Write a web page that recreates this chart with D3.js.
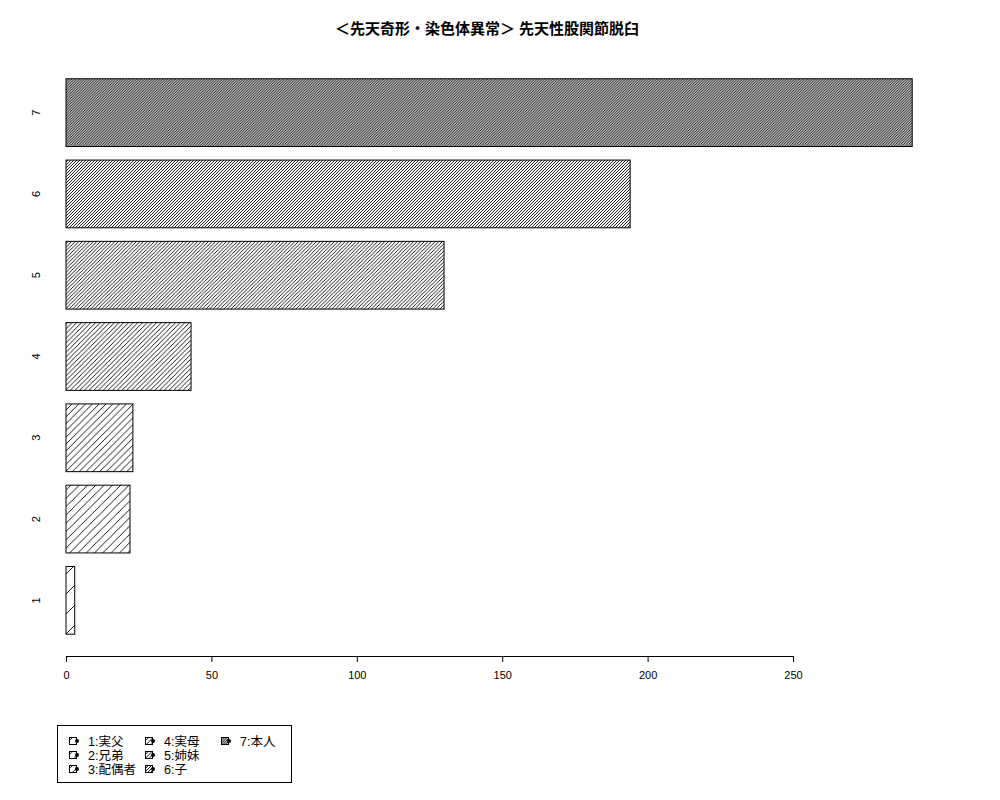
<!DOCTYPE html>
<html>
<head>
<meta charset="utf-8">
<script src="https://cdn.jsdelivr.net/npm/d3@7"></script>
<style>
  body { margin: 0; background: #fff; }
  text { font-family: "Liberation Sans", "Noto Sans CJK JP", sans-serif; fill: #000; }
</style>
</head>
<body>
<svg id="chart" width="1000" height="800"></svg>
<script>
// data
var categories = ["1", "2", "3", "4", "5", "6", "7"];
var counts = [3, 22, 23, 43, 130, 194, 291];
var legendLabels = ["1:実父", "2:兄弟", "3:配偶者", "4:実母", "5:姉妹", "6:子", "7:本人"];
var xTicks = [0, 50, 100, 150, 200, 250];
var title = "＜先天奇形・染色体異常＞ 先天性股関節脱臼";

// horizontal gap between hatch lines for each bar (px)
var hatchGap = [20, 8.3, 6.8, 4.7, 3.6, 3.0, 2.6];

var svg = d3.select("#chart");
var defs = svg.append("defs");

var x = d3.scaleLinear().domain([0, 250]).range([66, 793]);
// bars run from 1 at the bottom to 7 at the top
var y = d3.scaleBand()
   .domain(categories.slice().reverse())
   .range([72, 641])
   .paddingInner(0.2 / 1.2)
   .paddingOuter(0.1 / 1.2);

//Make one hatch pattern per bar: a square tile with a "/" diagonal
hatchGap.forEach(function(g, i){
   var pat = defs.append("pattern")
      .attr("id", "hatch" + i)
      .attr("patternUnits", "userSpaceOnUse")
      .attr("width", g)
      .attr("height", g);
   pat.append("path")
      .attr("d", "M0," + g + "L" + g + ",0" +
                 "M-1,1L1,-1" +
                 "M" + (g - 1) + "," + (g + 1) + "L" + (g + 1) + "," + (g - 1))
      .attr("stroke", "#000")
      .attr("stroke-width", 0.9);
});

//Title
svg.append("text")
   .attr("x", 487)
   .attr("y", 34)
   .attr("text-anchor", "middle")
   .attr("font-size", 15)
   .attr("font-weight", "bold")
   .text(title);

//Bars
svg.selectAll("rect.bar")
   .data(counts)
   .enter()
   .append("rect")
   .attr("class", "bar")
   .attr("x", x(0))
   .attr("y", function(d, i){ return y(categories[i]); })
   .attr("width", function(d){ return x(d) - x(0); })
   .attr("height", y.bandwidth())
   .attr("fill", function(d, i){ return "url(#hatch" + i + ")"; })
   .attr("stroke", "#000")
   .attr("stroke-width", 1);

//Category labels, rotated like R's las=0
svg.selectAll("text.ylab")
   .data(categories)
   .enter()
   .append("text")
   .attr("class", "ylab")
   .attr("font-size", 11)
   .attr("text-anchor", "middle")
   .attr("transform", function(d){
      return "translate(40," + (y(d) + y.bandwidth() / 2) + ") rotate(-90)";
   })
   .text(function(d){ return d; });

//X axis
var xAxis = d3.axisBottom(x).tickValues(xTicks).tickSize(6).tickPadding(9);
var gx = svg.append("g")
   .attr("transform", "translate(0,656)")
   .call(xAxis);
gx.select(".domain").attr("stroke", "#000").attr("d", "M" + x(0) + ",0.5H" + x(250));
gx.selectAll("text").attr("font-size", 11).attr("font-family", "Liberation Sans, sans-serif");

//Legend
var legend = svg.append("g");
legend.append("rect")
   .attr("x", 57.5).attr("y", 725.5)
   .attr("width", 234).attr("height", 57)
   .attr("fill", "none").attr("stroke", "#000");

var item = legend.selectAll("g.item")
   .data(legendLabels)
   .enter()
   .append("g")
   .attr("class", "item")
   .attr("transform", function(d, i){
      var col = Math.floor(i / 3), row = i % 3;
      return "translate(" + (69 + col * 76) + "," + (741 + row * 14) + ")";
   });
item.append("rect")
   .attr("x", 0.5).attr("y", -3.5)
   .attr("width", 7).attr("height", 7)
   .attr("fill", function(d, i){ return "url(#hatch" + i + ")"; })
   .attr("stroke", "#000");
item.append("circle")
   .attr("cx", 8).attr("cy", 0).attr("r", 2)
   .attr("fill", "#000");
item.append("text")
   .attr("x", 19)
   .attr("y", 4.5)
   .attr("font-size", 12.5)
   .text(function(d){ return d; });
</script>
</body>
</html>
